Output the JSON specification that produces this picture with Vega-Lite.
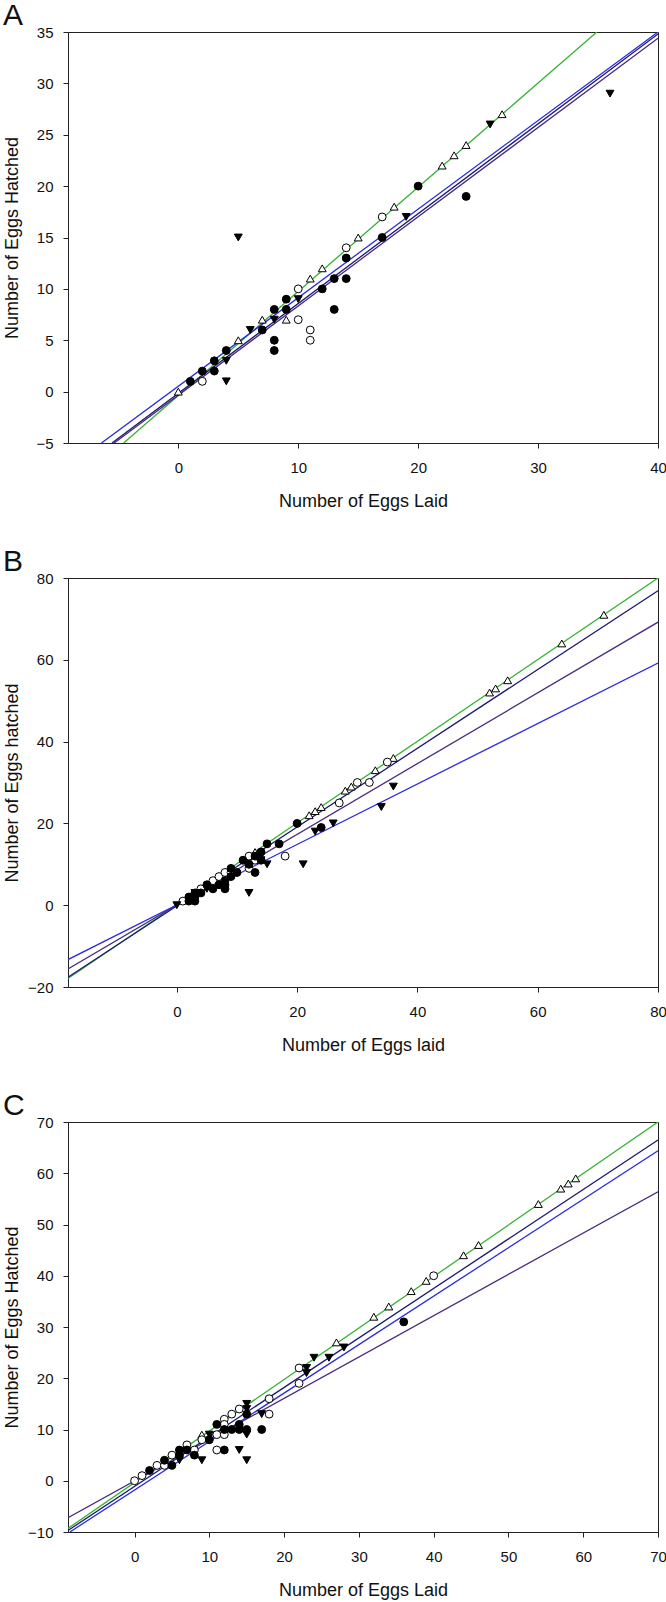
{
  "$schema": "https://vega.github.io/schema/vega-lite/v6.json",
  "padding": {"left": 2, "top": 0, "right": 2, "bottom": 2},
  "background": "white",
  "spacing": 35,
  "config": {
    "view": {"stroke": "#222", "strokeWidth": 1},
    "font": "Liberation Sans",
    "axis": {
      "grid": false,
      "domainColor": "#222",
      "tickColor": "#222",
      "tickSize": 5,
      "labelFont": "Liberation Sans",
      "labelFontSize": 15,
      "labelColor": "#111",
      "titleFont": "Liberation Sans",
      "titleFontSize": 18,
      "titleFontWeight": "normal",
      "titleColor": "#111",
      "labelOverlap": false,
      "labelFlush": false,
      "labelBound": false
    },
    "axisX": {"labelPadding": 12, "titlePadding": 17},
    "axisY": {"labelPadding": 10, "titleX": -56, "titleBaseline": "middle", "titleAlign": "center"},
    "title": {"font": "Liberation Sans", "fontSize": 30, "fontWeight": "normal", "color": "#111", "anchor": "start", "frame": "bounds", "offset": -6}
  },
  "datasets": {
    "points": [
      {"panel": "A", "type": "ot", "x": 0, "y": 0},
      {"panel": "A", "type": "ot", "x": 5, "y": 5},
      {"panel": "A", "type": "ot", "x": 7, "y": 7},
      {"panel": "A", "type": "ot", "x": 9, "y": 7},
      {"panel": "A", "type": "ot", "x": 11, "y": 11},
      {"panel": "A", "type": "ot", "x": 12, "y": 12},
      {"panel": "A", "type": "ot", "x": 15, "y": 15},
      {"panel": "A", "type": "ot", "x": 18, "y": 18},
      {"panel": "A", "type": "ot", "x": 22, "y": 22},
      {"panel": "A", "type": "ot", "x": 23, "y": 23},
      {"panel": "A", "type": "ot", "x": 24, "y": 24},
      {"panel": "A", "type": "ot", "x": 27, "y": 27},
      {"panel": "A", "type": "oc", "x": 2, "y": 1},
      {"panel": "A", "type": "oc", "x": 10, "y": 10},
      {"panel": "A", "type": "oc", "x": 10, "y": 7},
      {"panel": "A", "type": "oc", "x": 11, "y": 6},
      {"panel": "A", "type": "oc", "x": 11, "y": 5},
      {"panel": "A", "type": "oc", "x": 14, "y": 14},
      {"panel": "A", "type": "oc", "x": 17, "y": 17},
      {"panel": "A", "type": "fc", "x": 1, "y": 1},
      {"panel": "A", "type": "fc", "x": 2, "y": 2},
      {"panel": "A", "type": "fc", "x": 3, "y": 3},
      {"panel": "A", "type": "fc", "x": 3, "y": 2},
      {"panel": "A", "type": "fc", "x": 4, "y": 4},
      {"panel": "A", "type": "fc", "x": 7, "y": 6},
      {"panel": "A", "type": "fc", "x": 8, "y": 8},
      {"panel": "A", "type": "fc", "x": 8, "y": 5},
      {"panel": "A", "type": "fc", "x": 8, "y": 4},
      {"panel": "A", "type": "fc", "x": 9, "y": 9},
      {"panel": "A", "type": "fc", "x": 9, "y": 8},
      {"panel": "A", "type": "fc", "x": 12, "y": 10},
      {"panel": "A", "type": "fc", "x": 13, "y": 11},
      {"panel": "A", "type": "fc", "x": 13, "y": 8},
      {"panel": "A", "type": "fc", "x": 14, "y": 13},
      {"panel": "A", "type": "fc", "x": 14, "y": 11},
      {"panel": "A", "type": "fc", "x": 17, "y": 15},
      {"panel": "A", "type": "fc", "x": 20, "y": 20},
      {"panel": "A", "type": "fc", "x": 24, "y": 19},
      {"panel": "A", "type": "ft", "x": 4, "y": 3},
      {"panel": "A", "type": "ft", "x": 4, "y": 1},
      {"panel": "A", "type": "ft", "x": 5, "y": 15},
      {"panel": "A", "type": "ft", "x": 6, "y": 6},
      {"panel": "A", "type": "ft", "x": 8, "y": 7},
      {"panel": "A", "type": "ft", "x": 10, "y": 9},
      {"panel": "A", "type": "ft", "x": 19, "y": 17},
      {"panel": "A", "type": "ft", "x": 26, "y": 26},
      {"panel": "A", "type": "ft", "x": 36, "y": 29},

      {"panel": "B", "type": "ot", "x": 2, "y": 2},
      {"panel": "B", "type": "ot", "x": 9, "y": 9},
      {"panel": "B", "type": "ot", "x": 13, "y": 13},
      {"panel": "B", "type": "ot", "x": 22, "y": 22},
      {"panel": "B", "type": "ot", "x": 23, "y": 23},
      {"panel": "B", "type": "ot", "x": 24, "y": 24},
      {"panel": "B", "type": "ot", "x": 28, "y": 28},
      {"panel": "B", "type": "ot", "x": 29, "y": 29},
      {"panel": "B", "type": "ot", "x": 33, "y": 33},
      {"panel": "B", "type": "ot", "x": 36, "y": 36},
      {"panel": "B", "type": "ot", "x": 52, "y": 52},
      {"panel": "B", "type": "ot", "x": 53, "y": 53},
      {"panel": "B", "type": "ot", "x": 55, "y": 55},
      {"panel": "B", "type": "ot", "x": 64, "y": 64},
      {"panel": "B", "type": "ot", "x": 71, "y": 71},
      {"panel": "B", "type": "oc", "x": 1, "y": 1},
      {"panel": "B", "type": "oc", "x": 4, "y": 4},
      {"panel": "B", "type": "oc", "x": 6, "y": 6},
      {"panel": "B", "type": "oc", "x": 7, "y": 7},
      {"panel": "B", "type": "oc", "x": 8, "y": 8},
      {"panel": "B", "type": "oc", "x": 9, "y": 8},
      {"panel": "B", "type": "oc", "x": 12, "y": 12},
      {"panel": "B", "type": "oc", "x": 12, "y": 9},
      {"panel": "B", "type": "oc", "x": 13, "y": 11},
      {"panel": "B", "type": "oc", "x": 18, "y": 12},
      {"panel": "B", "type": "oc", "x": 27, "y": 25},
      {"panel": "B", "type": "oc", "x": 30, "y": 30},
      {"panel": "B", "type": "oc", "x": 32, "y": 30},
      {"panel": "B", "type": "oc", "x": 35, "y": 35},
      {"panel": "B", "type": "fc", "x": 2, "y": 1},
      {"panel": "B", "type": "fc", "x": 2, "y": 2},
      {"panel": "B", "type": "fc", "x": 3, "y": 1},
      {"panel": "B", "type": "fc", "x": 3, "y": 2},
      {"panel": "B", "type": "fc", "x": 3, "y": 3},
      {"panel": "B", "type": "fc", "x": 4, "y": 3},
      {"panel": "B", "type": "fc", "x": 5, "y": 5},
      {"panel": "B", "type": "fc", "x": 6, "y": 4},
      {"panel": "B", "type": "fc", "x": 7, "y": 5},
      {"panel": "B", "type": "fc", "x": 8, "y": 4},
      {"panel": "B", "type": "fc", "x": 8, "y": 5},
      {"panel": "B", "type": "fc", "x": 8, "y": 6},
      {"panel": "B", "type": "fc", "x": 9, "y": 7},
      {"panel": "B", "type": "fc", "x": 9, "y": 9},
      {"panel": "B", "type": "fc", "x": 10, "y": 8},
      {"panel": "B", "type": "fc", "x": 11, "y": 11},
      {"panel": "B", "type": "fc", "x": 12, "y": 10},
      {"panel": "B", "type": "fc", "x": 13, "y": 8},
      {"panel": "B", "type": "fc", "x": 13, "y": 12},
      {"panel": "B", "type": "fc", "x": 14, "y": 11},
      {"panel": "B", "type": "fc", "x": 14, "y": 13},
      {"panel": "B", "type": "fc", "x": 15, "y": 15},
      {"panel": "B", "type": "fc", "x": 17, "y": 15},
      {"panel": "B", "type": "fc", "x": 20, "y": 20},
      {"panel": "B", "type": "fc", "x": 24, "y": 19},
      {"panel": "B", "type": "ft", "x": 0, "y": 0},
      {"panel": "B", "type": "ft", "x": 3, "y": 3},
      {"panel": "B", "type": "ft", "x": 5, "y": 4},
      {"panel": "B", "type": "ft", "x": 6, "y": 4},
      {"panel": "B", "type": "ft", "x": 12, "y": 3},
      {"panel": "B", "type": "ft", "x": 14, "y": 11},
      {"panel": "B", "type": "ft", "x": 15, "y": 10},
      {"panel": "B", "type": "ft", "x": 21, "y": 10},
      {"panel": "B", "type": "ft", "x": 23, "y": 18},
      {"panel": "B", "type": "ft", "x": 26, "y": 20},
      {"panel": "B", "type": "ft", "x": 34, "y": 24},
      {"panel": "B", "type": "ft", "x": 36, "y": 29},

      {"panel": "C", "type": "ot", "x": 9, "y": 9},
      {"panel": "C", "type": "ot", "x": 27, "y": 27},
      {"panel": "C", "type": "ot", "x": 32, "y": 32},
      {"panel": "C", "type": "ot", "x": 34, "y": 34},
      {"panel": "C", "type": "ot", "x": 37, "y": 37},
      {"panel": "C", "type": "ot", "x": 39, "y": 39},
      {"panel": "C", "type": "ot", "x": 44, "y": 44},
      {"panel": "C", "type": "ot", "x": 46, "y": 46},
      {"panel": "C", "type": "ot", "x": 54, "y": 54},
      {"panel": "C", "type": "ot", "x": 57, "y": 57},
      {"panel": "C", "type": "ot", "x": 58, "y": 58},
      {"panel": "C", "type": "ot", "x": 59, "y": 59},
      {"panel": "C", "type": "oc", "x": 0, "y": 0},
      {"panel": "C", "type": "oc", "x": 1, "y": 1},
      {"panel": "C", "type": "oc", "x": 3, "y": 3},
      {"panel": "C", "type": "oc", "x": 4, "y": 3},
      {"panel": "C", "type": "oc", "x": 5, "y": 5},
      {"panel": "C", "type": "oc", "x": 7, "y": 7},
      {"panel": "C", "type": "oc", "x": 8, "y": 6},
      {"panel": "C", "type": "oc", "x": 9, "y": 8},
      {"panel": "C", "type": "oc", "x": 11, "y": 9},
      {"panel": "C", "type": "oc", "x": 11, "y": 6},
      {"panel": "C", "type": "oc", "x": 12, "y": 12},
      {"panel": "C", "type": "oc", "x": 12, "y": 11},
      {"panel": "C", "type": "oc", "x": 12, "y": 9},
      {"panel": "C", "type": "oc", "x": 13, "y": 13},
      {"panel": "C", "type": "oc", "x": 14, "y": 14},
      {"panel": "C", "type": "oc", "x": 18, "y": 16},
      {"panel": "C", "type": "oc", "x": 18, "y": 13},
      {"panel": "C", "type": "oc", "x": 22, "y": 22},
      {"panel": "C", "type": "oc", "x": 22, "y": 19},
      {"panel": "C", "type": "oc", "x": 40, "y": 40},
      {"panel": "C", "type": "fc", "x": 2, "y": 2},
      {"panel": "C", "type": "fc", "x": 4, "y": 4},
      {"panel": "C", "type": "fc", "x": 5, "y": 3},
      {"panel": "C", "type": "fc", "x": 6, "y": 6},
      {"panel": "C", "type": "fc", "x": 6, "y": 5},
      {"panel": "C", "type": "fc", "x": 7, "y": 6},
      {"panel": "C", "type": "fc", "x": 8, "y": 5},
      {"panel": "C", "type": "fc", "x": 10, "y": 8},
      {"panel": "C", "type": "fc", "x": 11, "y": 11},
      {"panel": "C", "type": "fc", "x": 12, "y": 6},
      {"panel": "C", "type": "fc", "x": 12, "y": 10},
      {"panel": "C", "type": "fc", "x": 13, "y": 10},
      {"panel": "C", "type": "fc", "x": 14, "y": 11},
      {"panel": "C", "type": "fc", "x": 14, "y": 10},
      {"panel": "C", "type": "fc", "x": 15, "y": 10},
      {"panel": "C", "type": "fc", "x": 15, "y": 13},
      {"panel": "C", "type": "fc", "x": 17, "y": 10},
      {"panel": "C", "type": "fc", "x": 36, "y": 31},
      {"panel": "C", "type": "ft", "x": 6, "y": 4},
      {"panel": "C", "type": "ft", "x": 9, "y": 4},
      {"panel": "C", "type": "ft", "x": 10, "y": 9},
      {"panel": "C", "type": "ft", "x": 14, "y": 6},
      {"panel": "C", "type": "ft", "x": 15, "y": 4},
      {"panel": "C", "type": "ft", "x": 15, "y": 9},
      {"panel": "C", "type": "ft", "x": 15, "y": 14},
      {"panel": "C", "type": "ft", "x": 15, "y": 15},
      {"panel": "C", "type": "ft", "x": 17, "y": 13},
      {"panel": "C", "type": "ft", "x": 23, "y": 22},
      {"panel": "C", "type": "ft", "x": 23, "y": 21},
      {"panel": "C", "type": "ft", "x": 24, "y": 24},
      {"panel": "C", "type": "ft", "x": 26, "y": 24},
      {"panel": "C", "type": "ft", "x": 28, "y": 26}
    ],
    "lines": [
      {"panel": "A", "line": "green", "x": -4.56, "y": -5},
      {"panel": "A", "line": "green", "x": 34.9, "y": 35},
      {"panel": "A", "line": "blue", "x": -6.41, "y": -5},
      {"panel": "A", "line": "blue", "x": 40, "y": 35},
      {"panel": "A", "line": "navy", "x": -5.53, "y": -5},
      {"panel": "A", "line": "navy", "x": 40, "y": 34.8},
      {"panel": "A", "line": "purple", "x": -5.35, "y": -5},
      {"panel": "A", "line": "purple", "x": 40, "y": 34.4},
      {"panel": "B", "line": "green", "x": -18.1, "y": -17.9},
      {"panel": "B", "line": "green", "x": 80, "y": 80},
      {"panel": "B", "line": "navy", "x": -18.1, "y": -17.6},
      {"panel": "B", "line": "navy", "x": 80, "y": 76.9},
      {"panel": "B", "line": "purple", "x": -18.1, "y": -15.6},
      {"panel": "B", "line": "purple", "x": 80, "y": 69.2},
      {"panel": "B", "line": "blue", "x": -18.1, "y": -13.3},
      {"panel": "B", "line": "blue", "x": 80, "y": 59.2},
      {"panel": "C", "line": "green", "x": -8.9, "y": -9.3},
      {"panel": "C", "line": "green", "x": 70, "y": 70},
      {"panel": "C", "line": "navy", "x": -8.9, "y": -9.7},
      {"panel": "C", "line": "navy", "x": 70, "y": 66.5},
      {"panel": "C", "line": "blue", "x": -8.65, "y": -10},
      {"panel": "C", "line": "blue", "x": 70, "y": 64.4},
      {"panel": "C", "line": "purple", "x": -8.9, "y": -7.2},
      {"panel": "C", "line": "purple", "x": 70, "y": 56.4}
    ]
  },
  "vconcat": [
    {
      "title": "A",
      "width": 590,
      "height": 411,
      "layer": [
        {
          "data": {"name": "lines"},
          "transform": [{"filter": "datum.panel === 'A'"}],
          "mark": {"type": "line", "clip": true, "strokeWidth": 1.3},
          "encoding": {
            "x": {"field": "x", "type": "quantitative", "scale": {"domain": [-9.2, 40], "nice": false, "zero": false}, "axis": {"values": [0, 10, 20, 30, 40], "title": "Number of Eggs Laid"}},
            "y": {"field": "y", "type": "quantitative", "scale": {"domain": [-5, 35], "nice": false, "zero": false}, "axis": {"values": [-5, 0, 5, 10, 15, 20, 25, 30, 35], "title": "Number of Eggs Hatched"}},
            "color": {"field": "line", "type": "nominal", "scale": {"domain": ["green", "navy", "purple", "blue"], "range": ["#33b233", "#1b1b70", "#4a2c7e", "#2b2be0"]}, "legend": null},
            "detail": {"field": "line"}
          }
        },
        {
          "data": {"name": "points"},
          "transform": [{"filter": "datum.panel === 'A'"}],
          "mark": {"type": "point", "filled": true, "stroke": "#000", "strokeWidth": 1, "opacity": 1},
          "encoding": {
            "x": {"field": "x", "type": "quantitative"},
            "y": {"field": "y", "type": "quantitative"},
            "shape": {"field": "type", "type": "nominal", "scale": {"domain": ["fc", "oc", "ft", "ot"], "range": ["circle", "circle", "triangle-down", "triangle-up"]}, "legend": null},
            "fill": {"field": "type", "type": "nominal", "scale": {"domain": ["fc", "oc", "ft", "ot"], "range": ["#000", "#fff", "#000", "#fff"]}, "legend": null},
            "size": {"field": "type", "type": "nominal", "scale": {"domain": ["fc", "oc", "ft", "ot"], "range": [62, 62, 85, 85]}, "legend": null}
          }
        }
      ]
    },
    {
      "title": "B",
      "width": 590,
      "height": 409,
      "layer": [
        {
          "data": {"name": "lines"},
          "transform": [{"filter": "datum.panel === 'B'"}],
          "mark": {"type": "line", "clip": true, "strokeWidth": 1.3},
          "encoding": {
            "x": {"field": "x", "type": "quantitative", "scale": {"domain": [-18.1, 80], "nice": false, "zero": false}, "axis": {"values": [0, 20, 40, 60, 80], "title": "Number of Eggs laid"}},
            "y": {"field": "y", "type": "quantitative", "scale": {"domain": [-20, 80], "nice": false, "zero": false}, "axis": {"values": [-20, 0, 20, 40, 60, 80], "title": "Number of Eggs hatched"}},
            "color": {"field": "line", "type": "nominal", "scale": {"domain": ["green", "navy", "purple", "blue"], "range": ["#33b233", "#1b1b70", "#4a2c7e", "#2b2be0"]}, "legend": null},
            "detail": {"field": "line"}
          }
        },
        {
          "data": {"name": "points"},
          "transform": [{"filter": "datum.panel === 'B'"}],
          "mark": {"type": "point", "filled": true, "stroke": "#000", "strokeWidth": 1, "opacity": 1},
          "encoding": {
            "x": {"field": "x", "type": "quantitative"},
            "y": {"field": "y", "type": "quantitative"},
            "shape": {"field": "type", "type": "nominal", "scale": {"domain": ["fc", "oc", "ft", "ot"], "range": ["circle", "circle", "triangle-down", "triangle-up"]}, "legend": null},
            "fill": {"field": "type", "type": "nominal", "scale": {"domain": ["fc", "oc", "ft", "ot"], "range": ["#000", "#fff", "#000", "#fff"]}, "legend": null},
            "size": {"field": "type", "type": "nominal", "scale": {"domain": ["fc", "oc", "ft", "ot"], "range": [62, 62, 85, 85]}, "legend": null}
          }
        }
      ]
    },
    {
      "title": "C",
      "width": 590,
      "height": 410,
      "layer": [
        {
          "data": {"name": "lines"},
          "transform": [{"filter": "datum.panel === 'C'"}],
          "mark": {"type": "line", "clip": true, "strokeWidth": 1.3},
          "encoding": {
            "x": {"field": "x", "type": "quantitative", "scale": {"domain": [-8.9, 70], "nice": false, "zero": false}, "axis": {"values": [0, 10, 20, 30, 40, 50, 60, 70], "title": "Number of Eggs Laid"}},
            "y": {"field": "y", "type": "quantitative", "scale": {"domain": [-10, 70], "nice": false, "zero": false}, "axis": {"values": [-10, 0, 10, 20, 30, 40, 50, 60, 70], "title": "Number of Eggs Hatched"}},
            "color": {"field": "line", "type": "nominal", "scale": {"domain": ["green", "navy", "purple", "blue"], "range": ["#33b233", "#1b1b70", "#4a2c7e", "#2b2be0"]}, "legend": null},
            "detail": {"field": "line"}
          }
        },
        {
          "data": {"name": "points"},
          "transform": [{"filter": "datum.panel === 'C'"}],
          "mark": {"type": "point", "filled": true, "stroke": "#000", "strokeWidth": 1, "opacity": 1},
          "encoding": {
            "x": {"field": "x", "type": "quantitative"},
            "y": {"field": "y", "type": "quantitative"},
            "shape": {"field": "type", "type": "nominal", "scale": {"domain": ["fc", "oc", "ft", "ot"], "range": ["circle", "circle", "triangle-down", "triangle-up"]}, "legend": null},
            "fill": {"field": "type", "type": "nominal", "scale": {"domain": ["fc", "oc", "ft", "ot"], "range": ["#000", "#fff", "#000", "#fff"]}, "legend": null},
            "size": {"field": "type", "type": "nominal", "scale": {"domain": ["fc", "oc", "ft", "ot"], "range": [62, 62, 85, 85]}, "legend": null}
          }
        }
      ]
    }
  ]
}
